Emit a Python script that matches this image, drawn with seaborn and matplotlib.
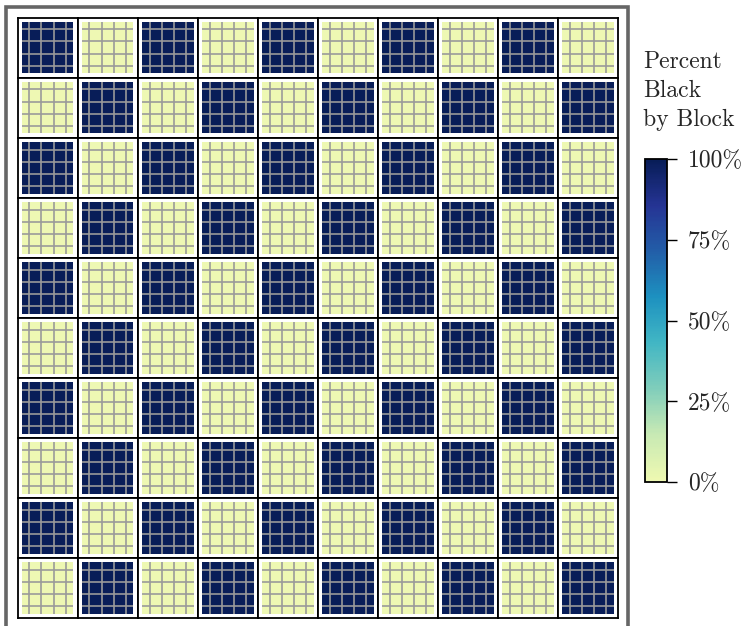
import numpy as np
import matplotlib
matplotlib.use('Agg')
import matplotlib.pyplot as plt
import matplotlib.patches as mpatches
from matplotlib.colors import LinearSegmentedColormap, Normalize
import seaborn as sns

sns.set_style('white')
plt.rcParams['font.family'] = ['cmr10', 'DejaVu Serif']
plt.rcParams['axes.formatter.use_mathtext'] = True

# percent black in each of the 10 x 10 blocks
pct_black = [
    [100, 0, 100, 0, 100, 0, 100, 0, 100, 0],
    [0, 100, 0, 100, 0, 100, 0, 100, 0, 100],
    [100, 0, 100, 0, 100, 0, 100, 0, 100, 0],
    [0, 100, 0, 100, 0, 100, 0, 100, 0, 100],
    [100, 0, 100, 0, 100, 0, 100, 0, 100, 0],
    [0, 100, 0, 100, 0, 100, 0, 100, 0, 100],
    [100, 0, 100, 0, 100, 0, 100, 0, 100, 0],
    [0, 100, 0, 100, 0, 100, 0, 100, 0, 100],
    [100, 0, 100, 0, 100, 0, 100, 0, 100, 0],
    [0, 100, 0, 100, 0, 100, 0, 100, 0, 100],
]
cbar_ticks = [0, 25, 50, 75, 100]
cbar_labels = ['0%', '25%', '50%', '75%', '100%']
title_lines = ['Percent', 'Black', 'by Block']

# YlGnBu without the palest end
base = plt.get_cmap('YlGnBu')
cmap = LinearSegmentedColormap.from_list('ylgnbu_cut', base(np.linspace(0.12, 1.0, 256)))

W, H = 751, 626
fig = plt.figure(figsize=(W / 100, H / 100), dpi=100)

# outer gray frame
fig.patches.append(mpatches.Rectangle((6.5 / W, -0.05), (628 - 6.5) / W, 1.05 - 7 / H,
                                      transform=fig.transFigure, fill=False,
                                      edgecolor='#666666', linewidth=2.6, zorder=0))

gs = fig.add_gridspec(10, 10, left=17.5 / W, right=618 / W, top=1 - 17.5 / H,
                      bottom=1 - 618 / H, wspace=0, hspace=0)

grid_pos = [0.15, 0.383, 0.617, 0.85]
pad = 0.08

for i, row in enumerate(pct_black):
    for j, val in enumerate(row):
        ax = fig.add_subplot(gs[i, j])
        sns.heatmap(np.array([[val]]), vmin=0, vmax=100, cmap=cmap, cbar=False,
                    xticklabels=False, yticklabels=False, ax=ax)
        ax.vlines(grid_pos, 0, 1, color='#9a9a9a', linewidth=1.4, alpha=0.85)
        ax.hlines(grid_pos, 0, 1, color='#9a9a9a', linewidth=1.4, alpha=0.85)
        ax.set_xlim(-pad, 1 + pad)
        ax.set_ylim(1 + pad, -pad)
        ax.set_facecolor('white')
        for s in ax.spines.values():
            s.set_visible(True)
            s.set_color('black')
            s.set_linewidth(1.3)

# colorbar
cax = fig.add_axes([645 / W, 1 - 482 / H, 22 / W, (482 - 159) / H])
sm = plt.cm.ScalarMappable(norm=Normalize(0, 100), cmap=cmap)
cb = fig.colorbar(sm, cax=cax, ticks=cbar_ticks)
cb.ax.set_yticklabels(cbar_labels)
cb.ax.tick_params(axis='y', right=True, length=7, width=1.0, color='black',
                  labelsize=17, pad=8)
cb.outline.set_edgecolor('black')
cb.outline.set_linewidth(1.3)

fig.text(643 / W, 1 - 51 / H, '\n'.join(title_lines), ha='left', va='top',
         fontsize=17, linespacing=1.4)

fig.savefig('out.png', dpi=100)
